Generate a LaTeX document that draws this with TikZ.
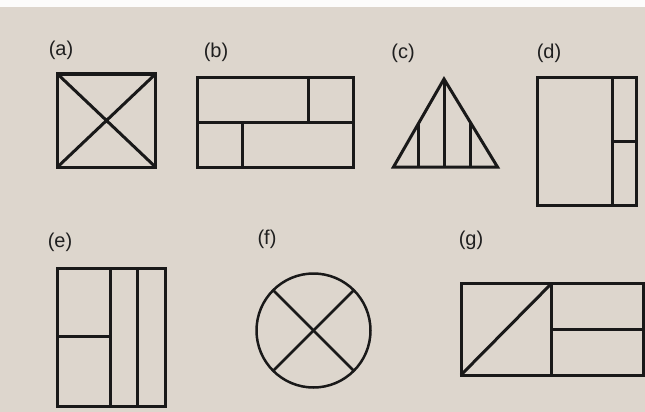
\documentclass[tikz,border=0pt]{standalone}
\usepackage{fontspec}
\setmainfont{Liberation Sans}
\usetikzlibrary{calc}
\begin{document}
\begin{tikzpicture}[x=1pt,y=-1pt,
  fig/.style={line width=3pt, line join=miter, draw=black!90},
  lbl/.style={font=\fontsize{20}{22}\selectfont, text=black!88, inner sep=0pt}]
\definecolor{paper}{RGB}{221,214,205}
\fill[paper] (0,0) rectangle (645,412);
\fill[white!92!paper] (0,0) rectangle (645,7);
\useasboundingbox (0,0) rectangle (645,412);
% labels
\node[lbl] (la) at (61,50) {(a)};
\node[lbl] (lb) at (216,52) {(b)};
\node[lbl] (lc) at (403,53) {(c)};
\node[lbl] (ld) at (549,53) {(d)};
\node[lbl] (le) at (60,242) {(e)};
\node[lbl] (lf) at (267,239) {(f)};
\node[lbl] (lg) at (471,240) {(g)};
% (a)
\draw[fig] (57.5,74) rectangle (155.5,167);
\draw[fig] (57.5,74) -- (155.5,167) (155.5,74) -- (57.5,167);
% (b)
\draw[fig] (197,77.5) rectangle (353,167);
\draw[fig] (197,122.5) -- (353,122.5);
\draw[fig] (308.5,77.5) -- (308.5,122.5);
\draw[fig] (242.5,122.5) -- (242.5,167);
% (c)
\draw[fig] (444,79) -- (497.5,167) -- (393.5,167) -- cycle;
\draw[fig] (444,79) -- (444,167);
\draw[fig] (418.75,123) -- (418.75,167);
\draw[fig] (470.75,123) -- (470.75,167);
% (d)
\draw[fig] (537,77.5) rectangle (636.5,205.5);
\draw[fig] (612.5,77.5) -- (612.5,205.5);
\draw[fig] (612.5,141) -- (636.5,141);
% (e)
\draw[fig] (57,268.5) rectangle (165,406.5);
\draw[fig] (110,268.5) -- (110,406.5);
\draw[fig] (137.5,268.5) -- (137.5,406.5);
\draw[fig] (57,336.5) -- (110,336.5);
% (f)
\coordinate (fc) at (313.5,330.5);
\draw[fig, line width=2.5pt] (fc) circle (57);
\draw[fig, line width=2.5pt] ($(fc)+(135:57)$) -- ($(fc)+(-45:57)$);
\draw[fig, line width=2.5pt] ($(fc)+(45:57)$) -- ($(fc)+(-135:57)$);
% (g)
\draw[fig] (461,283.5) rectangle (643.5,375);
\draw[fig] (551.5,283.5) -- (551.5,375);
\draw[fig] (551.5,329.5) -- (643.5,329.5);
\draw[fig] (461,375) -- (551.5,283.5);
\end{tikzpicture}
\end{document}
